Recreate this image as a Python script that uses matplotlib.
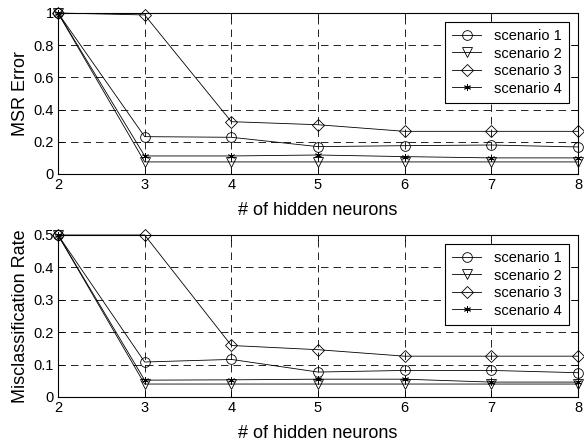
import matplotlib
matplotlib.use('Agg')
import matplotlib.pyplot as plt

plt.rcParams['font.family'] = ['Liberation Sans', 'DejaVu Sans']

neurons = [2, 3, 4, 5, 6, 7, 8]
labels = ['scenario 1', 'scenario 2', 'scenario 3', 'scenario 4']
markers = ['o', 'v', 'D', (6, 2, 0)]
msizes = [7, 7, 6, 5]

# MSR error
msr_s1 = [1.0, 0.232, 0.228, 0.170, 0.176, 0.180, 0.168]
msr_s2 = [1.0, 0.075, 0.075, 0.075, 0.075, 0.075, 0.075]
msr_s3 = [1.0, 0.988, 0.325, 0.306, 0.265, 0.265, 0.265]
msr_s4 = [1.0, 0.112, 0.112, 0.118, 0.108, 0.100, 0.100]

# misclassification rate
mis_s1 = [0.5, 0.108, 0.116, 0.077, 0.082, 0.082, 0.075]
mis_s2 = [0.5, 0.040, 0.040, 0.040, 0.040, 0.040, 0.040]
mis_s3 = [0.5, 0.500, 0.159, 0.146, 0.126, 0.126, 0.126]
mis_s4 = [0.5, 0.052, 0.053, 0.055, 0.055, 0.046, 0.046]

W, H = 584, 443
fig = plt.figure(figsize=(W / 100, H / 100), dpi=100)


def panel(rect_px, series, ylim, yticks, ylabel):
    x0, y0, x1, y1 = rect_px
    ax = fig.add_axes([x0 / W, 1 - y1 / H, (x1 - x0) / W, (y1 - y0) / H])
    for ys, m, ms, lab in zip(series, markers, msizes, labels):
        ax.plot(neurons, ys, color='k', lw=0.6, marker=m, ms=ms,
                mfc='none', mec='k', mew=0.6, label=lab, clip_on=False)
    ax.set_xlim(2, 8)
    ax.set_ylim(*ylim)
    ax.set_xticks(neurons)
    ax.set_yticks(yticks)
    ax.set_yticklabels([('%g' % t) for t in yticks])
    ax.grid(True, color='k', ls=(0, (9, 6)), lw=0.6)
    ax.tick_params(direction='in', top=True, right=True, labelsize=10.5,
                   length=4, width=0.6, pad=3)
    for s in ax.spines.values():
        s.set_linewidth(0.8)
    ax.set_xlabel('# of hidden neurons', fontsize=13, labelpad=7)
    ax.set_ylabel(ylabel, fontsize=13, labelpad=3)
    leg = ax.legend(loc='upper right', fontsize=10.5, frameon=True,
                    fancybox=False, edgecolor='k', handlelength=2.0,
                    handletextpad=0.9, borderpad=0.5, labelspacing=0.24,
                    borderaxespad=0.6, framealpha=1)
    leg.get_frame().set_linewidth(0.8)
    return ax


panel((58, 13, 578, 174), [msr_s1, msr_s2, msr_s3, msr_s4],
      (0, 1), [0, 0.2, 0.4, 0.6, 0.8, 1], 'MSR Error')
panel((58, 235, 578, 397), [mis_s1, mis_s2, mis_s3, mis_s4],
      (0, 0.5), [0, 0.1, 0.2, 0.3, 0.4, 0.5], 'Misclassification Rate')

fig.savefig('out.png', dpi=100)
